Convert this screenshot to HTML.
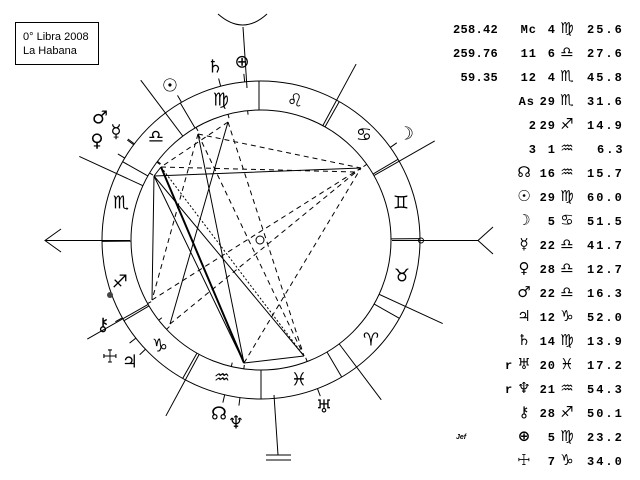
<!DOCTYPE html>
<html><head><meta charset="utf-8"><style>
html,body{margin:0;padding:0;background:#fff;width:640px;height:480px;overflow:hidden}
svg{position:absolute;left:0;top:0}
.g{font-family:"DejaVu Sans",sans-serif;font-size:18px;text-anchor:middle;dominant-baseline:central;fill:#000}
.t{font-family:"Liberation Mono",monospace;font-weight:bold;font-size:12px;letter-spacing:1px;fill:#000}
.m{letter-spacing:2px}
.n{letter-spacing:0.3px}
.s{font-family:"DejaVu Sans",sans-serif;font-size:15px;fill:#000;text-anchor:middle;letter-spacing:0;font-weight:bold}
</style></head><body>
<svg width="640" height="480" viewBox="0 0 640 480" id="sv">
<rect x="15.5" y="22.5" width="83" height="42" fill="none" stroke="#000"/>
<text x="23" y="40" font-family="Liberation Sans,sans-serif" font-size="11">0° Libra 2008</text>
<text x="23" y="54" font-family="Liberation Sans,sans-serif" font-size="11">La Habana</text>
<g fill="none" stroke="#000" stroke-width="1" id="lines">
<circle cx="261" cy="240" r="159"/>
<circle cx="261" cy="240" r="130"/>
<circle cx="260" cy="240" r="4"/>
<line x1="45" y1="240.5" x2="130" y2="240.5"/>
<polyline points="61,229 45,240.5 61,252"/>
<line x1="392" y1="240.5" x2="478" y2="240.5"/>
<polyline points="493,227 478,240.5 493,254"/>
<circle cx="421" cy="240.5" r="2.5"/>
<path d="M218,14 Q243,36 267,14"/>
<line x1="243" y1="27" x2="247" y2="88"/>
<line x1="274" y1="395" x2="278" y2="455"/>
<line x1="266" y1="455" x2="291" y2="455"/>
<line x1="266" y1="460" x2="291" y2="460"/>
<line x1="259" y1="81" x2="259" y2="110"/>
<line x1="261" y1="370" x2="261" y2="399"/>
<path d="M154,176 L361,168 M154,176 L152,300 M154,176 L244,363 M154,176 L304,356 M198,134 L244,363 M228,122 L170,324 M244,363 L304,356 M161,167 L154,176"/>
<path d="M161,167 L244,363" stroke-width="2"/>
<path stroke-dasharray="5,4" d="M198,134 L361,168 M228,122 L304,356 M198,134 L304,356 M198,134 L152,300 M152,300 L361,168 M170,324 L361,168 M244,363 L361,168 M228,122 L161,167 M161,167 L355,172"/>
<path stroke-dasharray="2,2" d="M161,167 L304,356"/>
</g>
<circle cx="110" cy="295" r="3" fill="#444"/>
<g class="g">
<text x="371" y="340">♈&#xFE0E;</text><text x="402" y="276">♉&#xFE0E;</text><text x="401" y="203">♊&#xFE0E;</text>
<text x="364" y="135">♋&#xFE0E;</text><text x="295" y="101">♌&#xFE0E;</text><text x="221" y="100">♍&#xFE0E;</text>
<text x="156" y="137">♎&#xFE0E;</text><text x="121" y="203">♏&#xFE0E;</text><text x="120" y="282">♐&#xFE0E;</text>
<text x="160" y="346">♑&#xFE0E;</text><text x="222" y="378">♒&#xFE0E;</text><text x="299" y="380">♓&#xFE0E;</text>
<text x="215" y="67">♄&#xFE0E;</text><text x="242" y="62">⊕</text><text x="170" y="86">☉&#xFE0E;</text>
<text x="100" y="118">♂&#xFE0E;</text><text x="97" y="141">♀&#xFE0E;</text><text x="116" y="132">☿&#xFE0E;</text>
<text x="406" y="134">☽&#xFE0E;</text><text x="103" y="325">⚷</text><text x="110" y="357">☩</text>
<text x="130" y="362">♃&#xFE0E;</text><text x="219" y="414">☊</text><text x="236" y="423">♆&#xFE0E;</text>
<text x="324" y="407">♅&#xFE0E;</text>
</g>
<g class="t n">
<text x="498" y="33" text-anchor="end">258.42</text><text x="498" y="57" text-anchor="end">259.76</text><text x="498" y="81" text-anchor="end">59.35</text>
</g>
<text x="456" y="439" font-family="Liberation Sans,sans-serif" font-size="7" font-weight="bold" font-style="italic">Jef</text>
</svg>
<script>
(function(){
var NS="http://www.w3.org/2000/svg",L=document.getElementById("lines");
function ln(a,r1,r2){var t=a*Math.PI/180,c=Math.cos(t),s=Math.sin(t);var e=document.createElementNS(NS,"line");
e.setAttribute("x1",261+r1*c);e.setAttribute("y1",240-r1*s);e.setAttribute("x2",261+r2*c);e.setAttribute("y2",240-r2*s);L.appendChild(e);}
[126.96,155.3,209.7,241.6,306.96,335.3,29.7,61.6].forEach(function(a){ln(a,130,200)});
for(var k=0;k<12;k++){var a=180+30*k-239.5;if(Math.abs(((a%360)+360)%360-90.5)>1&&Math.abs(((a%360)+360)%360-270.5)>1)ln(a,130,159);}
[120,35.6,143.2,149,142.8,223.4,104.7,290.8,262.4,209.3,256.8,95.9,218.1].forEach(function(a){ln(a,159,167);ln(a,126,130)});
})();
</script>
<svg width="640" height="480" viewBox="0 0 640 480">
<g class="t">
<text x="537" y="33" text-anchor="end">Mc</text><text x="556" y="33" text-anchor="end">4</text><text x="567" y="33" class="s">♍&#xFE0E;</text><text x="587" y="33" class="m">25.6</text>
<text x="537" y="57" text-anchor="end">11</text><text x="556" y="57" text-anchor="end">6</text><text x="567" y="57" class="s">♎&#xFE0E;</text><text x="587" y="57" class="m">27.6</text>
<text x="537" y="81" text-anchor="end">12</text><text x="556" y="81" text-anchor="end">4</text><text x="567" y="81" class="s">♏&#xFE0E;</text><text x="587" y="81" class="m">45.8</text>
<text x="535" y="105" text-anchor="end">As</text><text x="556" y="105" text-anchor="end">29</text><text x="567" y="105" class="s">♏&#xFE0E;</text><text x="587" y="105" class="m">31.6</text>
<text x="537" y="129" text-anchor="end">2</text><text x="556" y="129" text-anchor="end">29</text><text x="567" y="129" class="s">♐&#xFE0E;</text><text x="587" y="129" class="m">14.9</text>
<text x="537" y="153" text-anchor="end">3</text><text x="556" y="153" text-anchor="end">1</text><text x="567" y="153" class="s">♒&#xFE0E;</text><text x="597" y="153" class="m">6.3</text>
<text x="524" y="177" class="s">☊</text><text x="556" y="177" text-anchor="end">16</text><text x="567" y="177" class="s">♒&#xFE0E;</text><text x="587" y="177" class="m">15.7</text>
<text x="524" y="201" class="s">☉&#xFE0E;</text><text x="556" y="201" text-anchor="end">29</text><text x="567" y="201" class="s">♍&#xFE0E;</text><text x="587" y="201" class="m">60.0</text>
<text x="524" y="225" class="s">☽&#xFE0E;</text><text x="556" y="225" text-anchor="end">5</text><text x="567" y="225" class="s">♋&#xFE0E;</text><text x="587" y="225" class="m">51.5</text>
<text x="524" y="249" class="s">☿&#xFE0E;</text><text x="556" y="249" text-anchor="end">22</text><text x="567" y="249" class="s">♎&#xFE0E;</text><text x="587" y="249" class="m">41.7</text>
<text x="524" y="273" class="s">♀&#xFE0E;</text><text x="556" y="273" text-anchor="end">28</text><text x="567" y="273" class="s">♎&#xFE0E;</text><text x="587" y="273" class="m">12.7</text>
<text x="524" y="297" class="s">♂&#xFE0E;</text><text x="556" y="297" text-anchor="end">22</text><text x="567" y="297" class="s">♎&#xFE0E;</text><text x="587" y="297" class="m">16.3</text>
<text x="524" y="321" class="s">♃&#xFE0E;</text><text x="556" y="321" text-anchor="end">12</text><text x="567" y="321" class="s">♑&#xFE0E;</text><text x="587" y="321" class="m">52.0</text>
<text x="524" y="345" class="s">♄&#xFE0E;</text><text x="556" y="345" text-anchor="end">14</text><text x="567" y="345" class="s">♍&#xFE0E;</text><text x="587" y="345" class="m">13.9</text>
<text x="505" y="369">r</text><text x="524" y="369" class="s">♅&#xFE0E;</text><text x="556" y="369" text-anchor="end">20</text><text x="567" y="369" class="s">♓&#xFE0E;</text><text x="587" y="369" class="m">17.2</text>
<text x="505" y="393">r</text><text x="524" y="393" class="s">♆&#xFE0E;</text><text x="556" y="393" text-anchor="end">21</text><text x="567" y="393" class="s">♒&#xFE0E;</text><text x="587" y="393" class="m">54.3</text>
<text x="524" y="417" class="s">⚷</text><text x="556" y="417" text-anchor="end">28</text><text x="567" y="417" class="s">♐&#xFE0E;</text><text x="587" y="417" class="m">50.1</text>
<text x="524" y="441" class="s">⊕</text><text x="556" y="441" text-anchor="end">5</text><text x="567" y="441" class="s">♍&#xFE0E;</text><text x="587" y="441" class="m">23.2</text>
<text x="524" y="465" class="s">☩</text><text x="556" y="465" text-anchor="end">7</text><text x="567" y="465" class="s">♑&#xFE0E;</text><text x="587" y="465" class="m">34.0</text>
</g>
</svg>
</body></html>
